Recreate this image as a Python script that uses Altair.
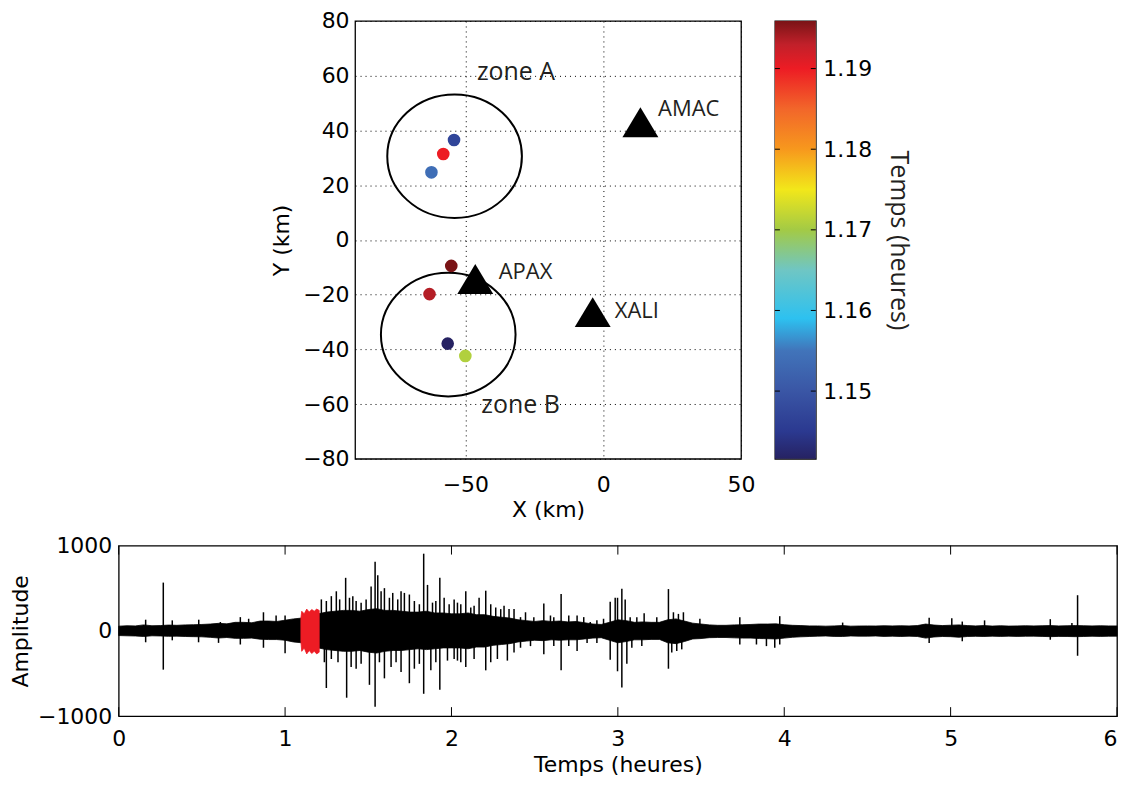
import altair as alt
import pandas as pd

FONT = "DejaVu Sans"
ANN = "Open Sans"
TXT = "#231f20"
FS = 22

# ---------------- map data ----------------
ev_x = [-54.1, -58.0, -62.3, -55.1, -63.0, -56.4, -50.0]
ev_y = [36.5, 31.4, 24.7, -9.5, -19.8, -37.9, -42.4]
ev_t = [1.147, 1.190, 1.154, 1.1959, 1.1935, 1.1416, 1.171]

sta_name = ["AMAC", "APAX", "XALI"]
sta_x = [13.5, -46.4, -3.8]
sta_y = [43.0, -14.3, -26.4]
sta_lab_x = [19.9, -37.9, 4.2]
sta_lab_y = [48.0, -11.9, -26.1]

zone_name = ["zone A", "zone B"]
zone_cx = [-53.9, -56.2]
zone_cy = [30.6, -34.6]
zone_lab_x = [-45.8, -44.2]
zone_lab_y = [61.4, -60.2]

x_ticks_map = [-50, 0, 50]
y_ticks_map = [-80, -60, -40, -20, 0, 20, 40, 60, 80]

cb_domain = [1.1416, 1.145, 1.150, 1.155, 1.159, 1.165, 1.170, 1.175, 1.180, 1.185, 1.190, 1.193, 1.1959]
cb_colors = ["#262262", "#2b3990", "#3a56a5", "#4174ba", "#2dc1f0", "#6fc6c4", "#a3ca45", "#f2e71a",
             "#f7981d", "#f2662a", "#ed1c24", "#c1202a", "#7a1416"]
cb_ticks = [1.15, 1.16, 1.17, 1.18, 1.19]

# ---------------- seismogram data ----------------
env_t = [round(0.05 * i, 2) for i in range(121)]
env_hi = [55, 60, 58, 70, 60, 62, 68, 65, 70, 72,
          75, 80, 88, 82, 100, 100, 95, 115, 115, 110,
          125, 140, 150, 180, 200, 220, 230, 240, 240, 230,
          250, 260, 240, 240, 230, 220, 220, 230, 210, 210,
          200, 200, 210, 190, 190, 170, 160, 150, 130, 120,
          110, 120, 110, 115, 105, 110, 95, 80, 75, 100,
          130, 120, 100, 105, 100, 100, 130, 140, 115, 90,
          80, 70, 65, 65, 70, 72, 75, 80, 80, 82,
          72, 65, 62, 58, 58, 55, 58, 62, 55, 57,
          58, 57, 60, 58, 60, 58, 62, 80, 68, 62,
          66, 70, 62, 58, 62, 56, 60, 56, 58, 60,
          58, 60, 62, 58, 60, 62, 60, 58, 60, 58, 58]
env_lo = [-55, -58, -60, -66, -58, -60, -64, -62, -66, -68,
          -70, -76, -84, -78, -88, -88, -85, -98, -102, -102,
          -110, -130, -140, -180, -200, -220, -230, -240, -240, -230,
          -250, -260, -240, -230, -230, -220, -210, -220, -210, -200,
          -200, -200, -210, -190, -190, -170, -160, -150, -130, -120,
          -110, -115, -105, -110, -105, -105, -95, -85, -80, -110,
          -140, -125, -105, -105, -100, -100, -140, -150, -125, -95,
          -90, -80, -78, -78, -82, -85, -85, -90, -92, -95,
          -85, -75, -70, -66, -62, -60, -65, -66, -60, -62,
          -62, -60, -65, -62, -66, -62, -66, -85, -72, -66,
          -68, -75, -66, -64, -66, -62, -65, -62, -65, -63,
          -62, -65, -68, -65, -66, -68, -66, -63, -65, -63, -62]

up_t = [0.162, 0.268, 0.322, 0.481, 0.611, 0.731, 0.781, 0.870, 0.946, 1.000,
        1.218, 1.248, 1.278, 1.308, 1.328, 1.364, 1.387, 1.407, 1.427, 1.457,
        1.487, 1.517, 1.541, 1.557, 1.577, 1.597, 1.627, 1.647, 1.677, 1.697,
        1.717, 1.747, 1.777, 1.807, 1.833, 1.856, 1.886, 1.906, 1.930, 1.956,
        1.986, 2.016, 2.036, 2.056, 2.086, 2.116, 2.136, 2.166, 2.206, 2.236,
        2.266, 2.296, 2.316, 2.346, 2.376, 2.415, 2.445, 2.495, 2.555, 2.595,
        2.615, 2.659, 2.705, 2.755, 2.795, 2.834, 2.874, 2.914, 2.954, 2.984,
        2.998, 3.024, 3.044, 3.074, 3.114, 3.158, 3.234, 3.304, 3.334, 3.364,
        3.394, 3.493, 3.733, 3.973, 4.351, 4.871, 5.007, 5.070, 5.204, 5.599,
        5.729, 5.763]
up_a = [131, 566, 123, 131, 104, 161, 142, 218, 180, 180,
        369, 350, 407, 464, 369, 622, 388, 407, 350, 331,
        369, 520, 811, 652, 464, 501, 388, 445, 369, 464,
        445, 426, 350, 312, 905, 539, 331, 350, 622, 388,
        312, 369, 331, 312, 464, 274, 293, 388, 471, 312,
        274, 255, 293, 255, 255, 161, 218, 161, 320, 180,
        161, 433, 180, 180, 161, 104, 123, 142, 342, 388,
        388, 493, 369, 161, 161, 206, 161, 490, 218, 199,
        218, 142, 161, 172, 97, 153, 147, 109, 123, 137,
        91, 418]

dn_t = [0.162, 0.268, 0.322, 0.480, 0.600, 0.731, 0.870, 1.000,
        1.236, 1.248, 1.278, 1.318, 1.370, 1.397, 1.427, 1.457, 1.507, 1.541,
        1.567, 1.597, 1.637, 1.667, 1.697, 1.747, 1.777, 1.807, 1.833, 1.876,
        1.906, 1.930, 1.976, 2.016, 2.036, 2.056, 2.086, 2.136, 2.206, 2.236,
        2.276, 2.336, 2.376, 2.415, 2.475, 2.555, 2.615, 2.659, 2.705, 2.755,
        2.815, 2.874, 2.954, 2.998, 3.024, 3.054, 3.084, 3.144, 3.304, 3.324,
        3.354, 3.384, 3.733, 3.833, 3.893, 3.943, 3.973, 4.871, 5.070, 5.599,
        5.763]
dn_a = [-134, -455, -111, -134, -141, -160, -198, -264,
        -368, -670, -330, -368, -784, -425, -444, -387, -633, -890,
        -368, -557, -425, -368, -482, -614, -444, -387, -738, -463,
        -368, -690, -349, -330, -349, -368, -425, -330, -463, -368,
        -330, -349, -255, -198, -179, -274, -179, -463, -179, -236,
        -141, -141, -338, -474, -663, -387, -198, -179, -444, -255,
        -236, -217, -160, -160, -179, -198, -160, -141, -122, -104,
        -292]

red_t = [1.095, 1.100, 1.115, 1.130, 1.145, 1.160, 1.175, 1.190, 1.205]
red_hi = [150, 230, 200, 255, 220, 250, 230, 255, 240]
red_lo = [-120, -240, -200, -270, -230, -265, -240, -270, -250]

hour_ticks = [0, 1, 2, 3, 4, 5, 6]
amp_ticks = [-1000, 0, 1000]

# ---------------- map panel ----------------
MAP_W, MAP_H = 387, 439
xs = alt.Scale(domain=[-90, 50], nice=False, zero=False)
ys = alt.Scale(domain=[-80, 80], nice=False, zero=False)
ax_x = alt.Axis(values=x_ticks_map, title="X (km)", grid=True, gridDash=[1, 4], gridColor="black",
                gridOpacity=1, gridWidth=1, domain=False, ticks=False, labelFlush=False,
                labelPadding=16, titlePadding=4, format="d")
ax_y = alt.Axis(values=y_ticks_map, title="Y (km)", grid=True, gridDash=[1, 4], gridColor="black",
                gridOpacity=1, gridWidth=1, domain=False, ticks=False, labelPadding=6,
                titlePadding=9, format="d")


def MX(f):
    return alt.X(f, type="quantitative", scale=xs, axis=ax_x)


def MY(f):
    return alt.Y(f, type="quantitative", scale=ys, axis=ax_y)


df_ev = pd.DataFrame({"x": ev_x, "y": ev_y, "t": ev_t})
df_sta = pd.DataFrame({"name": sta_name, "x": sta_x, "y": sta_y, "lx": sta_lab_x, "ly": sta_lab_y})
df_zone = pd.DataFrame({"name": zone_name, "x": zone_cx, "y": zone_cy, "lx": zone_lab_x, "ly": zone_lab_y})

ELL = "M-1,0A1,0.918,0,1,1,1,0A1,0.918,0,1,1,-1,0Z"
TRI = "M0,-0.833L1,0.833L-1,0.833Z"

ellipses = alt.Chart(df_zone).mark_point(shape=ELL, size=18225, filled=False, color="black",
                                         strokeWidth=2, opacity=1).encode(x=MX("x"), y=MY("y"))
dots = alt.Chart(df_ev).mark_circle(size=160, opacity=1).encode(
    x=MX("x"), y=MY("y"),
    color=alt.Color("t:Q", scale=alt.Scale(domain=cb_domain, range=cb_colors), legend=None))
tris = alt.Chart(df_sta).mark_point(shape=TRI, size=1296, filled=True, color="black",
                                    opacity=1).encode(x=MX("x"), y=MY("y"))
sta_txt = alt.Chart(df_sta).mark_text(align="left", baseline="middle", font=ANN, fontSize=22,
                                      color=TXT).encode(x=MX("lx"), y=MY("ly"), text="name:N")
zone_txt = alt.Chart(df_zone).mark_text(align="left", baseline="middle", font=ANN, fontSize=25,
                                        color=TXT).encode(x=MX("lx"), y=MY("ly"), text="name:N")

map_chart = alt.layer(ellipses, dots, tris, sta_txt, zone_txt).properties(width=MAP_W, height=MAP_H)

# ---------------- colorbar panel ----------------
lo, hi = cb_domain[0], cb_domain[-1]
cbs = alt.Scale(domain=[lo, hi], nice=False, zero=False)
cax = alt.Axis(values=cb_ticks, format=".2f", orient="right", title="Temps (heures)", titleAngle=90,
               titleFont=ANN, titleFontSize=25, titleColor=TXT, labelPadding=7, titlePadding=14,
               ticks=False, domain=False, grid=False)
stops = [alt.GradientStop(offset=(d - lo) / (hi - lo), color=c) for d, c in zip(cb_domain, cb_colors)]
grad = alt.Gradient(gradient="linear", stops=stops, x1=0, x2=0, y1=1, y2=0)
df_cb = pd.DataFrame({"lo": [lo], "hi": [hi]})
df_cbt = pd.DataFrame({"v": cb_ticks})
bar = alt.Chart(df_cb).mark_rect(color=grad).encode(
    y=alt.Y("lo:Q", scale=cbs, axis=cax), y2=alt.Y2("hi"), x=alt.value(0), x2=alt.value(41))
ctk1 = alt.Chart(df_cbt).mark_rule(color="black", strokeWidth=1).encode(
    y=alt.Y("v:Q", scale=cbs, axis=cax), x=alt.value(0), x2=alt.value(5))
ctk2 = alt.Chart(df_cbt).mark_rule(color="black", strokeWidth=1).encode(
    y=alt.Y("v:Q", scale=cbs, axis=cax), x=alt.value(36), x2=alt.value(41))
cbar = alt.layer(bar, ctk1, ctk2).properties(width=41, height=MAP_H)

spacer = alt.Chart(pd.DataFrame({"a": [0]})).mark_point(opacity=0).encode(
    x=alt.value(0), y=alt.value(0)).properties(width=134, height=10,
                                               view=alt.ViewBackground(strokeWidth=0))

top = alt.hconcat(spacer, map_chart, cbar, spacing=17)

# ---------------- seismogram panel ----------------
SW, SH = 1001, 171
bx = alt.Scale(domain=[0, 6], nice=False, zero=False)
by = alt.Scale(domain=[-1000, 1000], nice=False, zero=False)
bax_x = alt.Axis(values=hour_ticks, title="Temps (heures)", grid=False, domain=False, ticks=False,
                 labelFlush=False, labelPadding=12, titlePadding=6, format="d",
                 labelAlign={"condition": {"test": "datum.value == 6", "value": "right"}, "value": "center"})
bax_y = alt.Axis(values=amp_ticks, title="Amplitude", grid=False, domain=False, ticks=False,
                 labelPadding=7, titlePadding=5, format="d")


def BX(f):
    return alt.X(f, type="quantitative", scale=bx, axis=bax_x)


def BY(f):
    return alt.Y(f, type="quantitative", scale=by, axis=bax_y)


df_env = pd.DataFrame({"t": env_t, "hi": env_hi, "lo": env_lo})
df_up = pd.DataFrame({"t": up_t, "a": up_a, "z": [0] * len(up_t)})
df_dn = pd.DataFrame({"t": dn_t, "a": dn_a, "z": [0] * len(dn_t)})
df_red = pd.DataFrame({"t": red_t, "hi": red_hi, "lo": red_lo})
df_ht = pd.DataFrame({"t": hour_ticks})

env = alt.Chart(df_env).mark_area(color="black", stroke="black", strokeWidth=0.8, opacity=1).encode(
    x=BX("t"), y=BY("hi"), y2=alt.Y2("lo"))
sup = alt.Chart(df_up).mark_rule(color="black", strokeWidth=1.5).encode(
    x=BX("t"), y=BY("a"), y2=alt.Y2("z"))
sdn = alt.Chart(df_dn).mark_rule(color="black", strokeWidth=1.5).encode(
    x=BX("t"), y=BY("a"), y2=alt.Y2("z"))
red = alt.Chart(df_red).mark_area(color="#ed1c24", stroke="#ed1c24", strokeWidth=0.8, opacity=1).encode(
    x=BX("t"), y=BY("hi"), y2=alt.Y2("lo"))
tk_top = alt.Chart(df_ht).mark_rule(color="black", strokeWidth=1).encode(
    x=BX("t"), y=alt.value(0), y2=alt.value(9))
tk_bot = alt.Chart(df_ht).mark_rule(color="black", strokeWidth=1).encode(
    x=BX("t"), y=alt.value(SH), y2=alt.value(SH - 9))

seis = alt.layer(env, sup, sdn, red, tk_top, tk_bot).properties(width=SW, height=SH)

chart = alt.vconcat(top, seis, spacing=12, center=False).properties(
    padding={"left": 0, "top": 0, "right": 0, "bottom": 0}
).configure_view(stroke="black", strokeWidth=1.3).configure_axis(
    labelFont=FONT, titleFont=FONT, labelFontSize=FS, titleFontSize=FS,
    labelColor="black", titleColor="black", titleFontWeight="normal")

chart.save("out.html", embed_options={"renderer": "svg", "actions": False})
